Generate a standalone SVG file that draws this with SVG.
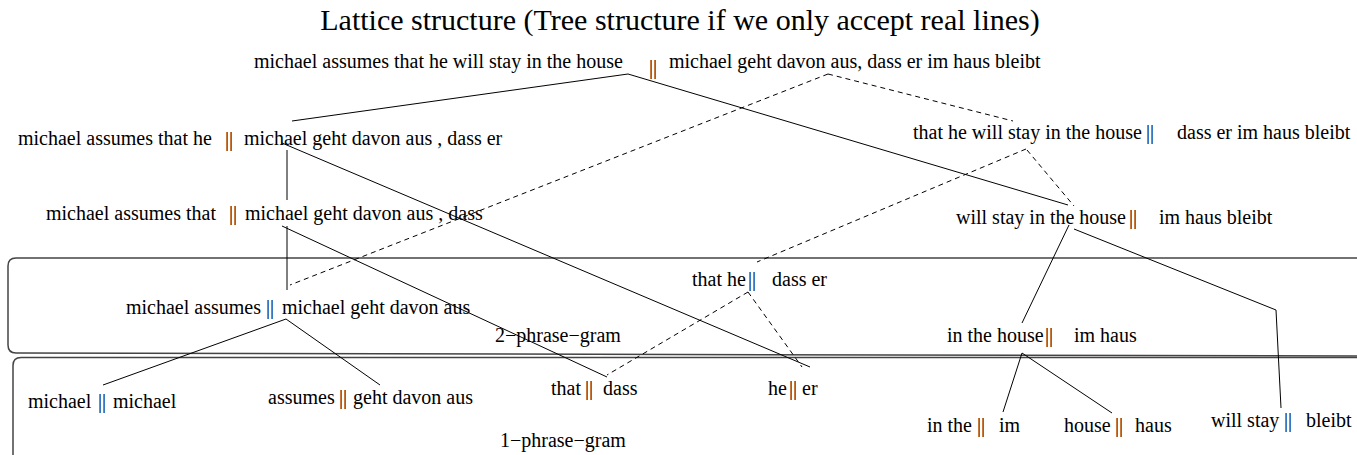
<svg xmlns="http://www.w3.org/2000/svg" width="1357" height="455" viewBox="0 0 1357 455">
<style>
text{font-family:"Liberation Serif","Times New Roman",serif;font-size:20px;fill:#000}
.title{font-size:30px}
.ln{stroke:#000;stroke-width:1;fill:none}
.ds{stroke:#000;stroke-width:1;fill:none;stroke-dasharray:5 4}
.box{stroke:#444;stroke-width:1.5;fill:none}
</style>
<rect width="1357" height="455" fill="#fff"/>
<text class="title" x="680" y="30" text-anchor="middle">Lattice structure (Tree structure if we only accept real lines)</text>
<g id="boxes">
<path class="box" d="M1357,258 H16 Q8,258 8,266 V345 Q8,353 16,353 L1357,356"/>
<path class="box" d="M1357,357.5 H21 Q13,357.5 13,365.5 V456"/>
<text x="495" y="342">2−phrase−gram</text>
<text x="500" y="447">1−phrase−gram</text>
</g>
<g id="connectors">
<line class="ln" x1="628" y1="74" x2="292" y2="121"/>
<line class="ln" x1="628" y1="74" x2="1068" y2="205"/>
<line class="ds" x1="828" y1="74" x2="290" y2="285"/>
<line class="ds" x1="828" y1="74" x2="1013" y2="121"/>
<line class="ds" x1="1026" y1="149" x2="757" y2="262"/>
<line class="ds" x1="1027" y1="150" x2="1074" y2="206"/>
<line class="ln" x1="287" y1="150" x2="287" y2="200"/>
<line class="ln" x1="287" y1="226" x2="287" y2="290"/>
<line class="ln" x1="282" y1="143" x2="810" y2="367"/>
<line class="ln" x1="282" y1="226" x2="607" y2="377"/>
<line class="ln" x1="286" y1="319" x2="103" y2="385"/>
<line class="ln" x1="286" y1="319" x2="380" y2="385"/>
<line class="ds" x1="748" y1="292" x2="607" y2="375"/>
<line class="ds" x1="748" y1="292" x2="802" y2="367"/>
<line class="ln" x1="1069" y1="225" x2="1022" y2="323"/>
<line class="ln" x1="1074" y1="229" x2="1276" y2="310"/>
<line class="ln" x1="1276" y1="310" x2="1281" y2="408"/>
<line class="ln" x1="1022" y1="353" x2="1003" y2="412"/>
<line class="ln" x1="1022" y1="353" x2="1112" y2="413"/>
</g>
<g id="nA">
<text x="254" y="68">michael assumes that he will stay in the house</text>
<text x="649" y="74">||</text>
<text x="669" y="68">michael geht davon aus, dass er im haus bleibt</text>
</g>
<g id="nB">
<text x="18" y="145">michael assumes that he</text>
<text x="225" y="146">||</text>
<text x="244" y="145">michael geht davon aus , dass er</text>
</g>
<g id="nC">
<text x="46" y="220">michael assumes that</text>
<text x="229" y="220">||</text>
<text x="245" y="220">michael geht davon aus , dass</text>
</g>
<g id="nG">
<text x="913" y="139">that he will stay in the house</text>
<text x="1146" y="139">||</text>
<text x="1177" y="139">dass er im haus bleibt</text>
</g>
<g id="nF">
<text x="956" y="224">will stay in the house</text>
<text x="1129" y="224">||</text>
<text x="1159" y="224">im haus bleibt</text>
</g>
<g id="nE">
<text x="692" y="286">that he</text>
<text x="748" y="286">||</text>
<text x="772" y="286">dass er</text>
</g>
<g id="nD">
<text x="126" y="314">michael assumes</text>
<text x="266" y="314">||</text>
<text x="282" y="314">michael geht davon aus</text>
</g>
<g id="nH">
<text x="947" y="342">in the house</text>
<text x="1045" y="342">||</text>
<text x="1074" y="342">im haus</text>
</g>
<g id="nI">
<text x="28" y="408">michael</text>
<text x="98" y="408">||</text>
<text x="113" y="408">michael</text>
</g>
<g id="nJ">
<text x="268" y="404">assumes</text>
<text x="339" y="404">||</text>
<text x="353" y="404">geht davon aus</text>
</g>
<g id="nK">
<text x="551" y="395">that</text>
<text x="585" y="395">||</text>
<text x="603" y="395">dass</text>
</g>
<g id="nL">
<text x="768" y="395">he</text>
<text x="789" y="395">||</text>
<text x="802" y="395">er</text>
</g>
<g id="nM">
<text x="927" y="432">in the</text>
<text x="977" y="432">||</text>
<text x="999" y="432">im</text>
</g>
<g id="nN">
<text x="1064" y="432">house</text>
<text x="1115" y="432">||</text>
<text x="1135" y="432">haus</text>
</g>
<g id="nO">
<text x="1211" y="427">will stay</text>
<text x="1284" y="427">||</text>
<text x="1306" y="427">bleibt</text>
</g>
</svg>
